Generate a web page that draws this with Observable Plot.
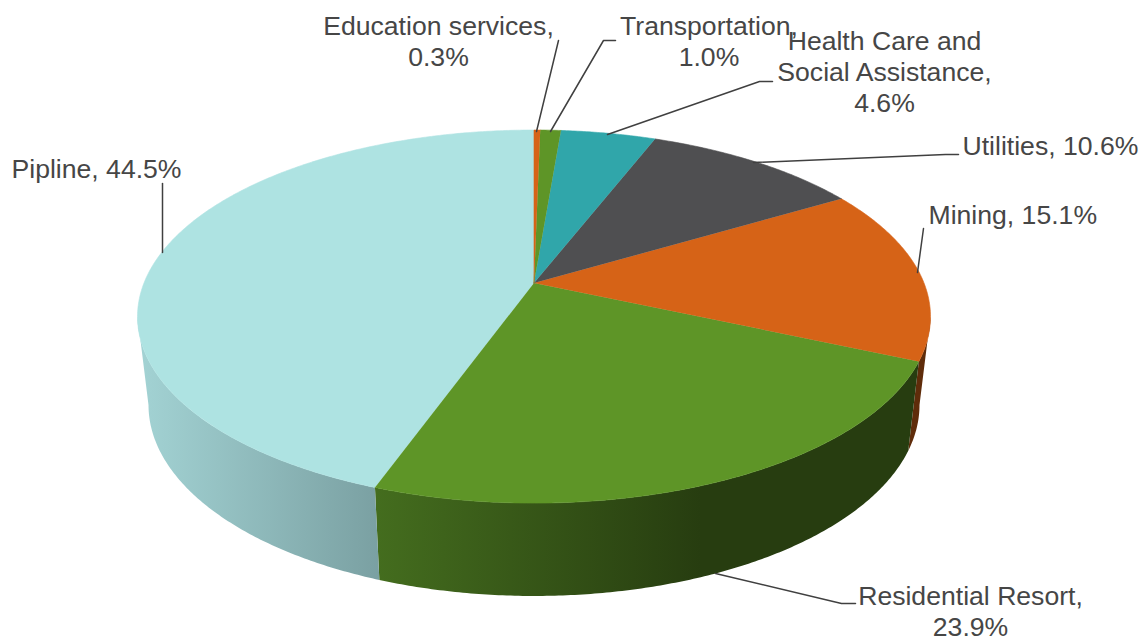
<!DOCTYPE html>
<html>
<head>
<meta charset="utf-8">
<style>html,body{margin:0;padding:0;background:#fff}svg{display:block}</style>
<script src="https://cdn.jsdelivr.net/npm/d3@7"></script>
<script src="https://cdn.jsdelivr.net/npm/@observablehq/plot@0.6"></script>
</head>
<body>
<div id="chart"></div>
<script>
// Data, clockwise from twelve o'clock
const categories = ["Education services", "Transportation", "Health Care and\nSocial Assistance", "Utilities", "Mining", "Residential Resort", "Pipline"];
const shares = [0.3, 1.0, 4.6, 10.6, 15.1, 23.9, 44.5];
const topColors = ["#d66317", "#5e9527", "#30a6aa", "#4f4f51", "#d66317", "#5e9527", "#aee3e2"];
const wallColors = ["#5f2c0a", "#273d10", "#175255", "#272728", "#5f2c0a", "url(#wallGreen)", "url(#wallPale)"];
const wrapShare = [true, true, true, false, false, true, false];

// Perspective view of the disc
const topFace = {cx: 533.5, cy: 282.5, a: 390, b: 180.5, k: 0.18};
const baseFace = {cx: 533.5, cy: 370.1, a: 379.2, b: 184.8, k: 0.18};
const project = (f, t) => {
  const u = Math.sin(2 * Math.PI * t), v = -Math.cos(2 * Math.PI * t), d = 1 - f.k * v;
  return {x: f.cx + f.a * u / d, y: f.cy + f.b * v / d};
};
const total = d3.sum(shares);
const edges = d3.cumsum(shares).map(c => c / total);
const starts = [0, ...edges.slice(0, -1)];
const arc = (f, t0, t1) => {
  const n = Math.max(2, Math.ceil((t1 - t0) * 720));
  return d3.range(n + 1).map(i => project(f, t0 + (t1 - t0) * i / n));
};
// The side wall is visible only between the two silhouette tangents
const frontStart = Math.acos(-topFace.k) / (2 * Math.PI);
const frontEnd = 1 - frontStart;
const slices = categories.map((c, i) => {
  const t0 = starts[i], t1 = edges[i];
  const w0 = Math.max(t0, frontStart), w1 = Math.min(t1, frontEnd);
  return {
    top: [{x: topFace.cx, y: topFace.cy}, ...arc(topFace, t0, t1)],
    wall: w1 > w0 ? [...arc(topFace, w0, w1), ...arc(baseFace, w0, w1).reverse()] : [],
    topColor: topColors[i], wallColor: wallColors[i]
  };
});

// Labels and leader lines (layout only)
const labelPlaces = [
  {x: 438, y: 40.5, anchor: "middle"},
  {x: 708.5, y: 40.5, anchor: "middle"},
  {x: 884, y: 70.5, anchor: "middle"},
  {x: 962, y: 144.5, anchor: "start"},
  {x: 928, y: 213.5, anchor: "start"},
  {x: 970, y: 610.5, anchor: "middle"},
  {x: 11, y: 167.5, anchor: "start"}
];
const leaders = [
  [[536, 131], [558, 40]],
  [[550, 131], [603, 40], [615, 40]],
  [[607, 134], [759, 81], [772, 81]],
  [[753, 162], [945, 154], [958, 154]],
  [[917, 272], [923, 228]],
  [[715, 573], [841, 603], [855, 603]],
  [[162, 252], [162, 183]]
];
const labels = categories.map((c, i) => ({
  text: `${c},${wrapShare[i] ? "\n" : " "}${shares[i].toFixed(1)}%`,
  ...labelPlaces[i]
}));

const gradients = () => {
  const g = d3.create("svg:g");
  const defs = g.append("defs");
  const add = (id, x1, x2, stops) => {
    const lg = defs.append("linearGradient").attr("id", id).attr("gradientUnits", "userSpaceOnUse")
      .attr("x1", x1).attr("x2", x2).attr("y1", 0).attr("y2", 0);
    stops.forEach(([o, c]) => lg.append("stop").attr("offset", o).attr("stop-color", c));
  };
  add("wallPale", 137, 379, [[0, "#a3d3d4"], [1, "#7aa0a2"]]);
  add("wallGreen", 375, 700, [[0, "#446d1e"], [1, "#273d10"]]);
  return g.node();
};

const plot = Plot.plot({
  width: 1141,
  height: 640,
  margin: 0,
  x: {domain: [0, 1141], range: [0, 1141], axis: null},
  y: {domain: [0, 640], range: [0, 640], axis: null},
  style: {fontFamily: "'Liberation Sans', Arial, sans-serif", background: "#fff"},
  marks: [
    gradients,
    ...slices.filter(s => s.wall.length).map(s => Plot.line(s.wall, {x: "x", y: "y", fill: s.wallColor, stroke: "none"})),
    ...slices.slice().reverse().map(s => Plot.line(s.top, {x: "x", y: "y", fill: s.topColor, stroke: s.topColor, strokeWidth: 0.6})),
    ...leaders.map(l => Plot.line(l, {x: d => d[0], y: d => d[1], stroke: "#404040", strokeWidth: 1.5})),
    ...["start", "middle"].map(a => Plot.text(labels.filter(d => d.anchor === a), {
      x: "x", y: "y", text: "text", textAnchor: a, fontSize: 26.6, lineHeight: 1.16, fill: "#464646"
    }))
  ]
});
document.getElementById("chart").append(plot);
</script>
</body>
</html>
